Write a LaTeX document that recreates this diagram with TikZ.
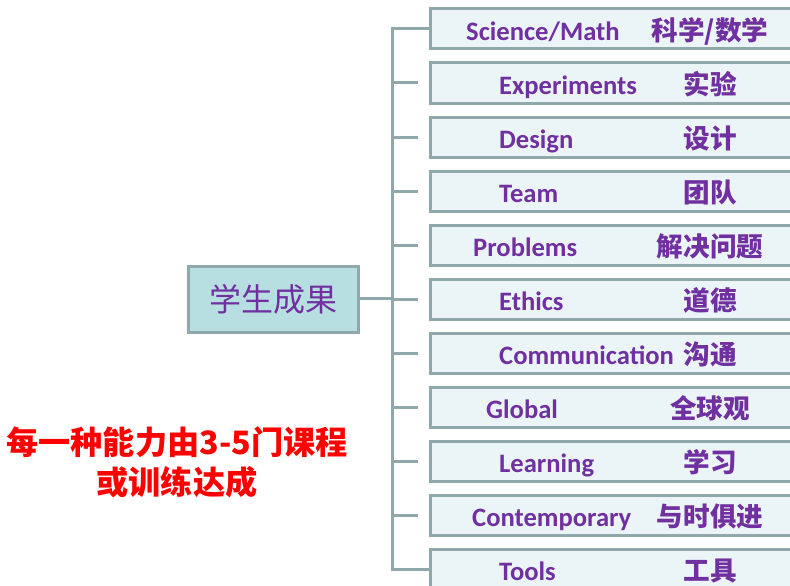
\documentclass[tikz,border=0pt]{standalone}
\usepackage{fontspec}
\setmainfont{Carlito}
\newfontfamily\cjk{Noto Sans CJK SC}
\definecolor{lineC}{HTML}{8FA9AA}
\definecolor{boxF}{HTML}{EBF5F7}
\definecolor{mainF}{HTML}{B7DEE1}
\definecolor{purp}{HTML}{7030A0}
\begin{document}
\begin{tikzpicture}[x=1pt,y=-1pt,
  conn/.style={draw=lineC,line width=3pt},
  itembox/.style={draw=lineC,fill=boxF,line width=3pt},
  en/.style={anchor=base west,inner sep=0pt,text=purp,font=\fontsize{26.6}{30}\selectfont\bfseries},
  zh/.style={anchor=base,inner sep=0pt,text=purp,font=\fontsize{26.6}{30}\selectfont\cjk\bfseries},
  mainbox/.style={draw=lineC,fill=mainF,line width=3pt,minimum width=170pt,minimum height=66pt,inner sep=0pt,text=purp,font=\fontsize{32}{34}\selectfont\cjk},
  note/.style={align=center,text=red,inner sep=0pt,font=\fontsize{32.2}{40}\selectfont\cjk\bfseries}]
\useasboundingbox (0,0) rectangle (790,586);
% items
\foreach \i/\en/\ex/\zh in {
  1/Science\slash Math/466/科学\slash 数学,
  2/Experiments/499/实验,
  3/Design/499/设计,
  4/Team/499/团队,
  5/Problems/473/解决问题,
  6/Ethics/499/道德,
  7/Communication/499/沟通,
  8/Global/486/全球观,
  9/Learning/499/学习,
  10/Contemporary/472/与时俱进,
  11/Tools/499/工具}{
  \pgfmathsetmacro{\t}{9+54*(\i-1)}
  \path[itembox] (430,\t) rectangle (810,\t+40);
  \node[en] (e\i) at (\ex,\t+31.5) {\en};
  \node[zh] (z\i) at (710,\t+31.5) {\zh};
  \coordinate (b\i) at (392,\t+20);
  \coordinate (c\i) at (418,\t+20);
}
\coordinate (c1) at (430,29);
\coordinate (c11) at (430,569);
\draw[conn] (c1) -- (b1) -- (b11) -- (c11);
\foreach \i in {2,...,10}{\draw[conn] (b\i) -- (c\i);}
\node[mainbox] (main) at (273,299) {学生成果};
\coordinate (j) at (392,298);
\draw[conn] (main.east |- j) -- (j);
\node[note] (n) at (177,462) {每一种能力由3-5门课程\\或训练达成};
\end{tikzpicture}
\end{document}
